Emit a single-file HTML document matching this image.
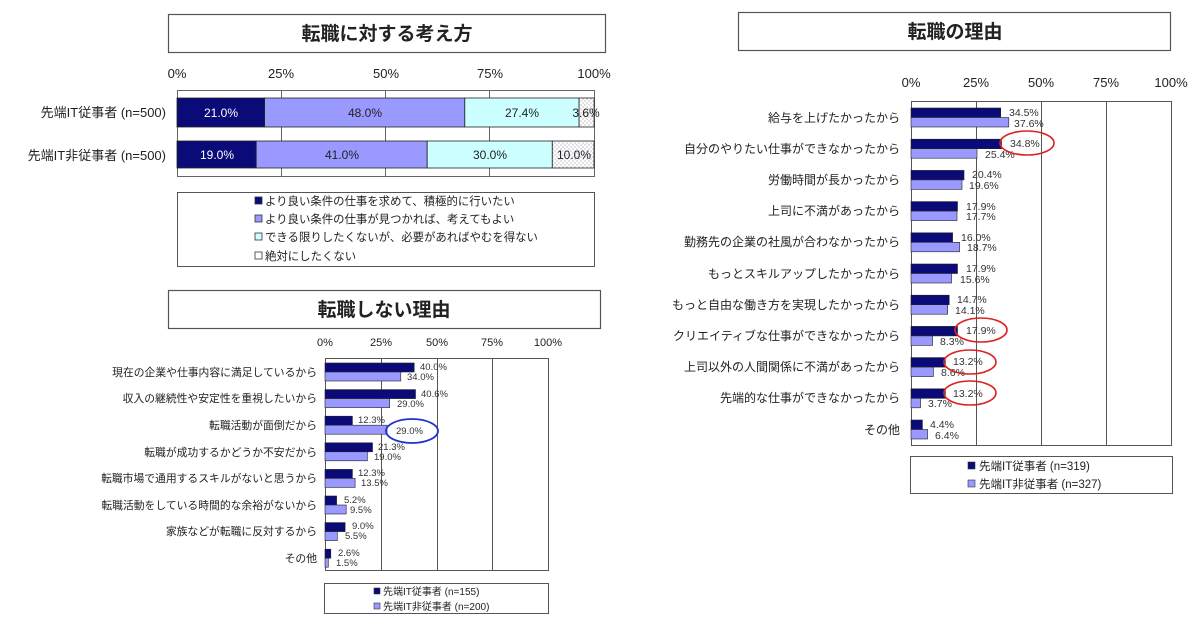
<!DOCTYPE html>
<html><head><meta charset="utf-8"><style>
html,body{margin:0;padding:0;background:#fff;}
svg{display:block;font-family:"Liberation Sans","Noto Sans CJK JP",sans-serif;}
</style></head><body>
<svg width="1200" height="620" viewBox="0 0 1200 620" xmlns="http://www.w3.org/2000/svg">
<defs>
<pattern id="dots" width="4" height="4" patternUnits="userSpaceOnUse"><rect width="4" height="4" fill="#fff"/><circle cx="1" cy="1" r="0.6" fill="#99a"/><circle cx="3" cy="3" r="0.6" fill="#99a"/></pattern>
</defs>
<!-- ===== Top-left chart ===== -->
<rect x="168.5" y="14.5" width="437" height="38" fill="#fff" stroke="#555" stroke-width="1.2"/>
<text x="387" y="40" font-size="19" font-weight="bold" text-anchor="middle" fill="#222">転職に対する考え方</text>
<g font-size="13" fill="#222" text-anchor="middle">
<text x="177" y="78">0%</text><text x="281" y="78">25%</text><text x="386" y="78">50%</text><text x="490" y="78">75%</text><text x="594" y="78">100%</text>
</g>
<rect x="177.5" y="90.5" width="417" height="86" fill="#fff" stroke="#666"/>
<g stroke="#666"><line x1="281.5" y1="90" x2="281.5" y2="176"/><line x1="385.5" y1="90" x2="385.5" y2="176"/><line x1="489.5" y1="90" x2="489.5" y2="176"/></g>
<g stroke="#222" stroke-width="0.8">
<rect x="177" y="98" width="87.6" height="29" fill="#0a0a78"/>
<rect x="264.6" y="98" width="200.2" height="29" fill="#9999ff"/>
<rect x="464.8" y="98" width="114.3" height="29" fill="#ccffff"/>
<rect x="579.1" y="98" width="15" height="29" fill="url(#dots)"/>
<rect x="177" y="141" width="79.2" height="27" fill="#0a0a78"/>
<rect x="256.2" y="141" width="171" height="27" fill="#9999ff"/>
<rect x="427.2" y="141" width="125.1" height="27" fill="#ccffff"/>
<rect x="552.3" y="141" width="41.7" height="27" fill="url(#dots)"/>
</g>
<g font-size="12" text-anchor="middle">
<text x="221" y="117" fill="#fff">21.0%</text><text x="365" y="117" fill="#222">48.0%</text><text x="522" y="117" fill="#222">27.4%</text><text x="586" y="117" fill="#222">3.6%</text>
<text x="217" y="159" fill="#fff">19.0%</text><text x="342" y="159" fill="#222">41.0%</text><text x="490" y="159" fill="#222">30.0%</text><text x="574" y="159" fill="#222">10.0%</text>
</g>
<g font-size="13" fill="#222" text-anchor="end">
<text x="166" y="117">先端IT従事者 (n=500)</text>
<text x="166" y="160">先端IT非従事者 (n=500)</text>
</g>
<rect x="177.5" y="192.5" width="417" height="74" fill="#fff" stroke="#555"/>
<g stroke="#333" stroke-width="0.8">
<rect x="255" y="197" width="7" height="7" fill="#0a0a78"/>
<rect x="255" y="215" width="7" height="7" fill="#9999ff"/>
<rect x="255" y="233" width="7" height="7" fill="#ccffff"/>
<rect x="255" y="252" width="7" height="7" fill="#fff"/>
</g>
<g font-size="11.4" fill="#222">
<text x="265" y="205">より良い条件の仕事を求めて、積極的に行いたい</text>
<text x="265" y="223">より良い条件の仕事が見つかれば、考えてもよい</text>
<text x="265" y="241">できる限りしたくないが、必要があればやむを得ない</text>
<text x="265" y="260">絶対にしたくない</text>
</g>
<!-- ===== Bottom-left chart ===== -->
<rect x="168.5" y="290.5" width="432" height="38" fill="#fff" stroke="#555" stroke-width="1.2"/>
<text x="384" y="316" font-size="19" font-weight="bold" text-anchor="middle" fill="#222">転職しない理由</text>
<g font-size="11" fill="#222" text-anchor="middle">
<text x="325" y="346">0%</text><text x="381" y="346">25%</text><text x="437" y="346">50%</text><text x="492" y="346">75%</text><text x="548" y="346">100%</text>
</g>
<rect x="325.5" y="358.5" width="223" height="212" fill="#fff" stroke="#555"/>
<g stroke="#555"><line x1="381.5" y1="358" x2="381.5" y2="571"/><line x1="437.5" y1="358" x2="437.5" y2="571"/><line x1="492.5" y1="358" x2="492.5" y2="571"/></g>
<g stroke="#222" stroke-width="0.6">
<rect x="325" y="363" width="89.2" height="9" fill="#0a0a78"/><rect x="325" y="372" width="75.8" height="9" fill="#9999ff"/>
<rect x="325" y="389.6" width="90.5" height="9" fill="#0a0a78"/><rect x="325" y="398.6" width="64.7" height="9" fill="#9999ff"/>
<rect x="325" y="416.2" width="27.4" height="9" fill="#0a0a78"/><rect x="325" y="425.2" width="62" height="9" fill="#9999ff"/>
<rect x="325" y="442.8" width="47.5" height="9" fill="#0a0a78"/><rect x="325" y="451.8" width="42.4" height="9" fill="#9999ff"/>
<rect x="325" y="469.4" width="27.4" height="9" fill="#0a0a78"/><rect x="325" y="478.4" width="30.1" height="9" fill="#9999ff"/>
<rect x="325" y="496" width="11.6" height="9" fill="#0a0a78"/><rect x="325" y="505" width="21.2" height="9" fill="#9999ff"/>
<rect x="325" y="522.6" width="20.1" height="9" fill="#0a0a78"/><rect x="325" y="531.6" width="12.3" height="9" fill="#9999ff"/>
<rect x="325" y="549.2" width="5.8" height="9" fill="#0a0a78"/><rect x="325" y="558.2" width="3.3" height="9" fill="#9999ff"/>
</g>
<g font-size="9.5" fill="#333">
<text x="420" y="370">40.0%</text><text x="407" y="380">34.0%</text>
<text x="421" y="397">40.6%</text><text x="397" y="407">29.0%</text>
<text x="358" y="423">12.3%</text><text x="396" y="434">29.0%</text>
<text x="378" y="450">21.3%</text><text x="374" y="460">19.0%</text>
<text x="358" y="476">12.3%</text><text x="361" y="486">13.5%</text>
<text x="344" y="503">5.2%</text><text x="350" y="513">9.5%</text>
<text x="352" y="529">9.0%</text><text x="345" y="539">5.5%</text>
<text x="338" y="556">2.6%</text><text x="336" y="566">1.5%</text>
</g>
<ellipse cx="412" cy="431" rx="26" ry="12" fill="none" stroke="#2233cc" stroke-width="1.8"/>
<g font-size="10.8" fill="#222" text-anchor="end">
<text x="317" y="376">現在の企業や仕事内容に満足しているから</text>
<text x="317" y="402">収入の継続性や安定性を重視したいから</text>
<text x="317" y="429">転職活動が面倒だから</text>
<text x="317" y="456">転職が成功するかどうか不安だから</text>
<text x="317" y="482">転職市場で通用するスキルがないと思うから</text>
<text x="317" y="509">転職活動をしている時間的な余裕がないから</text>
<text x="317" y="535">家族などが転職に反対するから</text>
<text x="317" y="562">その他</text>
</g>
<rect x="324.5" y="583.5" width="224" height="30" fill="#fff" stroke="#555"/>
<g stroke="#333" stroke-width="0.6"><rect x="374" y="588" width="6" height="6" fill="#0a0a78"/><rect x="374" y="603" width="6" height="6" fill="#9999ff"/></g>
<g font-size="10" fill="#222"><text x="383" y="595">先端IT従事者 (n=155)</text><text x="383" y="610">先端IT非従事者 (n=200)</text></g>
<!-- ===== Right chart ===== -->
<rect x="738.5" y="12.5" width="432" height="38" fill="#fff" stroke="#555" stroke-width="1.2"/>
<text x="955" y="38" font-size="19" font-weight="bold" text-anchor="middle" fill="#222">転職の理由</text>
<g font-size="13" fill="#222" text-anchor="middle">
<text x="911" y="87">0%</text><text x="976" y="87">25%</text><text x="1041" y="87">50%</text><text x="1106" y="87">75%</text><text x="1171" y="87">100%</text>
</g>
<rect x="911.5" y="101.5" width="260" height="344" fill="#fff" stroke="#555"/>
<g stroke="#555"><line x1="976.5" y1="101" x2="976.5" y2="445"/><line x1="1041.5" y1="101" x2="1041.5" y2="445"/><line x1="1106.5" y1="101" x2="1106.5" y2="445"/></g>
<g stroke="#222" stroke-width="0.6">
<rect x="911" y="108" width="89.7" height="9.5" fill="#0a0a78"/><rect x="911" y="117.5" width="97.8" height="9.5" fill="#9999ff"/>
<rect x="911" y="139.2" width="90.5" height="9.5" fill="#0a0a78"/><rect x="911" y="148.7" width="66" height="9.5" fill="#9999ff"/>
<rect x="911" y="170.4" width="53" height="9.5" fill="#0a0a78"/><rect x="911" y="179.9" width="51" height="9.5" fill="#9999ff"/>
<rect x="911" y="201.6" width="46.5" height="9.5" fill="#0a0a78"/><rect x="911" y="211.1" width="46" height="9.5" fill="#9999ff"/>
<rect x="911" y="232.8" width="41.6" height="9.5" fill="#0a0a78"/><rect x="911" y="242.3" width="48.6" height="9.5" fill="#9999ff"/>
<rect x="911" y="264" width="46.5" height="9.5" fill="#0a0a78"/><rect x="911" y="273.5" width="40.6" height="9.5" fill="#9999ff"/>
<rect x="911" y="295.2" width="38.2" height="9.5" fill="#0a0a78"/><rect x="911" y="304.7" width="36.7" height="9.5" fill="#9999ff"/>
<rect x="911" y="326.4" width="46.5" height="9.5" fill="#0a0a78"/><rect x="911" y="335.9" width="21.6" height="9.5" fill="#9999ff"/>
<rect x="911" y="357.6" width="34.3" height="9.5" fill="#0a0a78"/><rect x="911" y="367.1" width="22.4" height="9.5" fill="#9999ff"/>
<rect x="911" y="388.8" width="34.3" height="9.5" fill="#0a0a78"/><rect x="911" y="398.3" width="9.6" height="9.5" fill="#9999ff"/>
<rect x="911" y="420" width="11.4" height="9.5" fill="#0a0a78"/><rect x="911" y="429.5" width="16.6" height="9.5" fill="#9999ff"/>
</g>
<g font-size="10.5" fill="#333">
<text x="1009" y="116">34.5%</text><text x="1014" y="127">37.6%</text>
<text x="1010" y="147">34.8%</text><text x="985" y="158">25.4%</text>
<text x="972" y="178">20.4%</text><text x="969" y="189">19.6%</text>
<text x="966" y="210">17.9%</text><text x="966" y="220">17.7%</text>
<text x="961" y="241">16.0%</text><text x="967" y="251">18.7%</text>
<text x="966" y="272">17.9%</text><text x="960" y="283">15.6%</text>
<text x="957" y="303">14.7%</text><text x="955" y="314">14.1%</text>
<text x="966" y="334">17.9%</text><text x="940" y="345">8.3%</text>
<text x="953" y="365">13.2%</text><text x="941" y="376">8.6%</text>
<text x="953" y="397">13.2%</text><text x="928" y="407">3.7%</text>
<text x="930" y="428">4.4%</text><text x="935" y="439">6.4%</text>
</g>
<g fill="none" stroke="#dd2222" stroke-width="1.6">
<ellipse cx="1027" cy="143" rx="27" ry="12"/>
<ellipse cx="981" cy="330" rx="26" ry="12"/>
<ellipse cx="970" cy="362" rx="26" ry="12"/>
<ellipse cx="970" cy="393" rx="26" ry="12"/>
</g>
<g font-size="12" fill="#222" text-anchor="end">
<text x="900" y="122">給与を上げたかったから</text>
<text x="900" y="153">自分のやりたい仕事ができなかったから</text>
<text x="900" y="184">労働時間が長かったから</text>
<text x="900" y="215">上司に不満があったから</text>
<text x="900" y="246">勤務先の企業の社風が合わなかったから</text>
<text x="900" y="278">もっとスキルアップしたかったから</text>
<text x="900" y="309">もっと自由な働き方を実現したかったから</text>
<text x="900" y="340">クリエイティブな仕事ができなかったから</text>
<text x="900" y="371">上司以外の人間関係に不満があったから</text>
<text x="900" y="402">先端的な仕事ができなかったから</text>
<text x="900" y="434">その他</text>
</g>
<rect x="910.5" y="456.5" width="262" height="37" fill="#fff" stroke="#555"/>
<g stroke="#333" stroke-width="0.6"><rect x="968" y="462" width="7" height="7" fill="#0a0a78"/><rect x="968" y="480" width="7" height="7" fill="#9999ff"/></g>
<g font-size="11.5" fill="#222"><text x="979" y="470">先端IT従事者 (n=319)</text><text x="979" y="488">先端IT非従事者 (n=327)</text></g>
</svg>
</body></html>
